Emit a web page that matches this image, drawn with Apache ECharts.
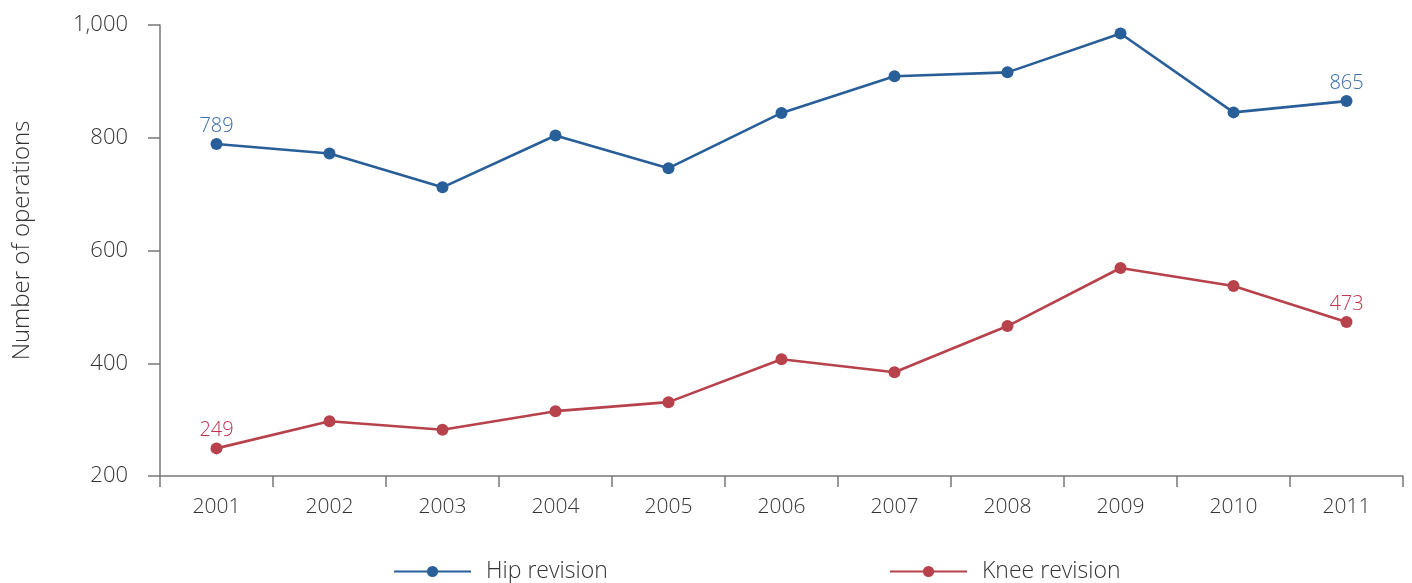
<!DOCTYPE html>
<html>
<head>
<meta charset="utf-8">
<script src="https://cdn.jsdelivr.net/npm/echarts@6/dist/echarts.min.js"></script>
<style>
  html, body { margin: 0; padding: 0; background: #fff; }
  #chart { width: 1412px; height: 583px; }
</style>
</head>
<body>
<div id="chart"></div>
<script>
// Revision operations per year
const years = ['2001', '2002', '2003', '2004', '2005', '2006', '2007', '2008', '2009', '2010', '2011'];
const hipRevision = [789, 772, 712, 804, 746, 844, 909, 916, 985, 845, 865];
const kneeRevision = [249, 297, 282, 315, 331, 407, 384, 466, 569, 537, 473];
const yTicks = { min: 200, max: 1000, interval: 200 };

const FONT = '"Open Sans", "Noto Sans", sans-serif';
const HIP = '#295f99';
const KNEE = '#b8424b';

// Show value labels only on the first and last points
function endLabels(values, color) {
  return values.map((v, i) => {
    if (i === 0 || i === values.length - 1) {
      return {
        value: v,
        label: { show: true, position: 'top', distance: 2, color: color,
                 fontSize: 20, fontFamily: FONT, fontWeight: 300 }
      };
    }
    return v;
  });
}

const legendText = { fontSize: 23, fontFamily: FONT, fontWeight: 300, color: '#333',
                     padding: [0, 0, 0, 10] };

const chart = echarts.init(document.getElementById('chart'));
chart.setOption({
  animation: false,
  grid: { left: 160, right: 9, top: 25, bottom: 107 },
  legend: [
    {
      data: ['Hip revision'], left: 393, top: 560, padding: 0,
      itemWidth: 77, itemHeight: 14, itemGap: 16,
      textStyle: legendText
    },
    {
      data: ['Knee revision'], left: 889, top: 560, padding: 0,
      itemWidth: 77, itemHeight: 14, itemGap: 16,
      textStyle: legendText
    }
  ],
  xAxis: {
    type: 'category',
    data: years,
    boundaryGap: true,
    axisLine: { lineStyle: { color: '#777', width: 1.5 } },
    axisTick: { show: true, length: 11, lineStyle: { color: '#777', width: 1.5 } },
    axisLabel: { fontSize: 21, fontFamily: FONT, fontWeight: 300, color: '#333', margin: 21 }
  },
  yAxis: {
    type: 'value',
    min: yTicks.min, max: yTicks.max, interval: yTicks.interval,
    name: 'Number of operations',
    nameLocation: 'middle',
    nameGap: 126,
    nameTextStyle: { fontSize: 24, fontFamily: FONT, fontWeight: 300, color: '#333',
                     padding: [0, 0, 0, 20] },
    axisLine: { show: true, lineStyle: { color: '#777', width: 1.5 } },
    axisTick: { show: true, length: 12, lineStyle: { color: '#777', width: 1.5 } },
    splitLine: { show: false },
    axisLabel: {
      fontSize: 22, fontFamily: FONT, fontWeight: 300, color: '#333', margin: 32,
      formatter: v => v.toLocaleString('en-US')
    }
  },
  series: [
    {
      name: 'Hip revision', type: 'line',
      data: endLabels(hipRevision, '#3a6dab'),
      symbol: 'circle', symbolSize: 12,
      lineStyle: { color: HIP, width: 2.6 },
      itemStyle: { color: HIP }
    },
    {
      name: 'Knee revision', type: 'line',
      data: endLabels(kneeRevision, '#c2334f'),
      symbol: 'circle', symbolSize: 12,
      lineStyle: { color: KNEE, width: 2.6 },
      itemStyle: { color: KNEE }
    }
  ]
});
</script>
</body>
</html>
